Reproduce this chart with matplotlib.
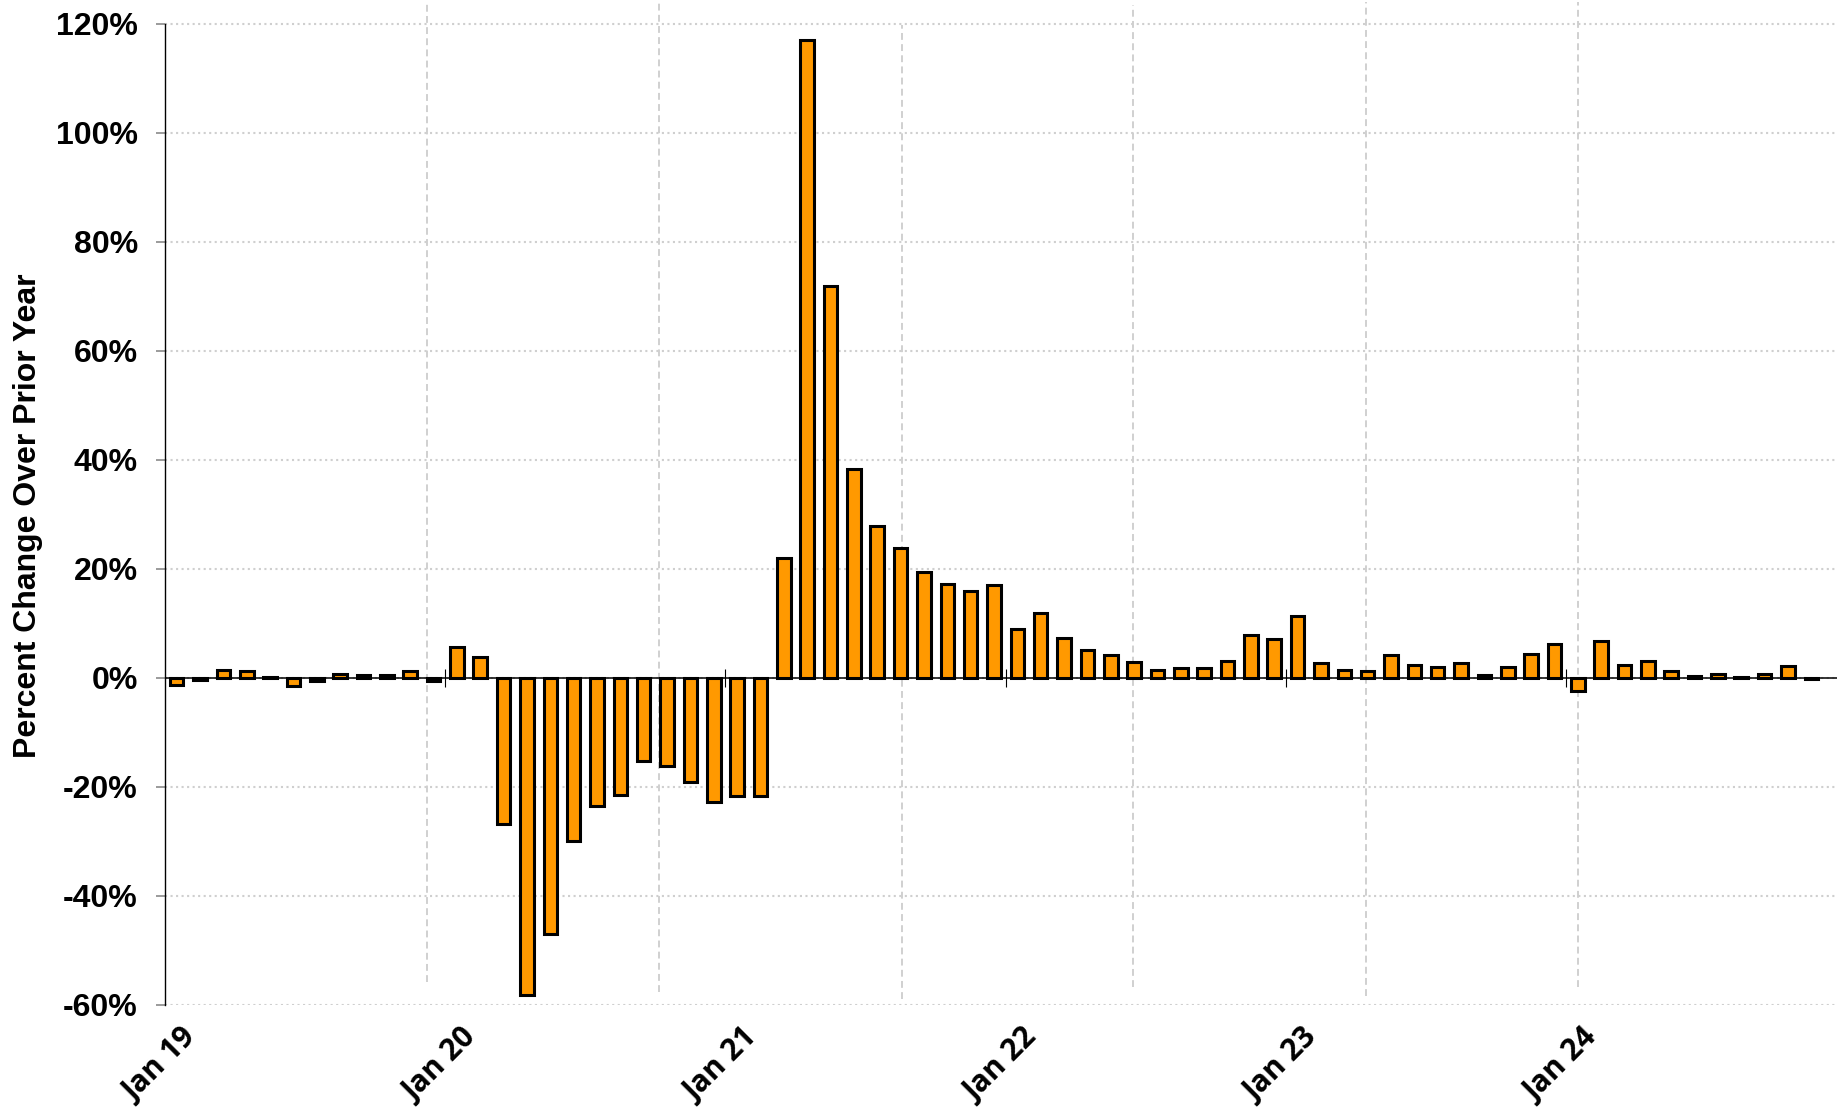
import matplotlib
matplotlib.use('Agg')
import matplotlib.pyplot as plt
import numpy as np

# monthly change over prior year, Jan 2019 - Nov 2024 (%)
pct_2019 = [-1.2, -0.3, 1.4, 1.3, 0.1, -1.4, -0.6, 0.8, 0.6, 0.6, 1.2, -0.6]
pct_2020 = [5.6, 3.8, -26.8, -58.1, -47.0, -30.0, -23.5, -21.4, -15.3, -16.2, -19.0, -22.8]
pct_2021 = [-21.6, -21.6, 22.0, 117.0, 72.0, 38.4, 27.8, 23.8, 19.5, 17.3, 16.0, 17.1]
pct_2022 = [8.9, 11.9, 7.4, 5.2, 4.2, 2.9, 1.4, 1.8, 1.8, 3.2, 7.8, 7.1]
pct_2023 = [11.4, 2.7, 1.5, 1.2, 4.3, 2.4, 2.0, 2.7, 0.6, 2.1, 4.4, 6.2]
pct_2024 = [-2.3, 6.8, 2.3, 3.2, 1.2, 0.4, 0.7, 0.2, 0.7, 2.2, -0.1]

year_labels = ['Jan 19', 'Jan 20', 'Jan 21', 'Jan 22', 'Jan 23', 'Jan 24']
y_ticks = [-60, -40, -20, 0, 20, 40, 60, 80, 100, 120]

# stray dashed vertical grid lines (month position, bottom %, top %)
vgrid_pos = [10.7, 20.65, 31.05, 40.95, 50.95, 60.0]
vgrid_bottom = [-55.8, -57.6, -58.9, -56.7, -58.3, -56.7]
vgrid_top = [124.0, 124.0, 119.8, 123.5, 124.0, 124.0]

values = pct_2019 + pct_2020 + pct_2021 + pct_2022 + pct_2023 + pct_2024
x = np.arange(len(values))

W, H = 1837, 1119
fig = plt.figure(figsize=(W / 100, H / 100), dpi=100)
ax = fig.add_axes([165 / W, (H - 1005) / H, (W - 165) / W, 1005 / H])

ax.bar(x, values, width=0.58, color='#FF9900', edgecolor='black', linewidth=2.2, zorder=3)
ax.axhline(0, color='black', lw=1.1, zorder=2)

# year separators on the zero line
ax.vlines(np.arange(11.5, len(values), 12), -1.7, 1.7, color='black', lw=0.8, zorder=4)

ax.vlines(vgrid_pos, vgrid_bottom, vgrid_top, colors='#c4c4c4', lw=1.1,
          linestyles=(0, (4.5, 2.8)), zorder=1)

ax.set_xlim(-0.5, 71.1)
ax.set_ylim(-60, 124.4)

ax.set_yticks(y_ticks)
ax.set_yticklabels(['%d%%' % v for v in y_ticks], fontsize=23, fontweight='bold',
                   family=['Liberation Sans', 'DejaVu Sans'])
ax.yaxis.grid(True, linestyle=':', color='#cfcfcf', lw=1.5, zorder=0)
ax.tick_params(axis='y', direction='out', length=6.5, width=1.1, color='#808080', pad=13)

ax.set_xticks(np.arange(0, len(values), 12) + 0.2)
ax.set_xticklabels(year_labels, rotation=45, ha='right', va='top', rotation_mode='anchor',
                   fontsize=21.5, fontweight='bold', family=['Open Sans', 'DejaVu Sans'])
ax.tick_params(axis='x', length=0, pad=13)

for side in ['top', 'right', 'bottom']:
    ax.spines[side].set_visible(False)
ax.spines['left'].set_bounds(-60, 120)
ax.spines['left'].set_linewidth(1.0)

fig.text(28 / W, 1 - 516 / H, 'Percent Change Over Prior Year', rotation=90,
         ha='center', va='center', fontsize=23, fontweight='bold',
         family=['Liberation Sans', 'DejaVu Sans'])

fig.savefig('out.png', dpi=100)
